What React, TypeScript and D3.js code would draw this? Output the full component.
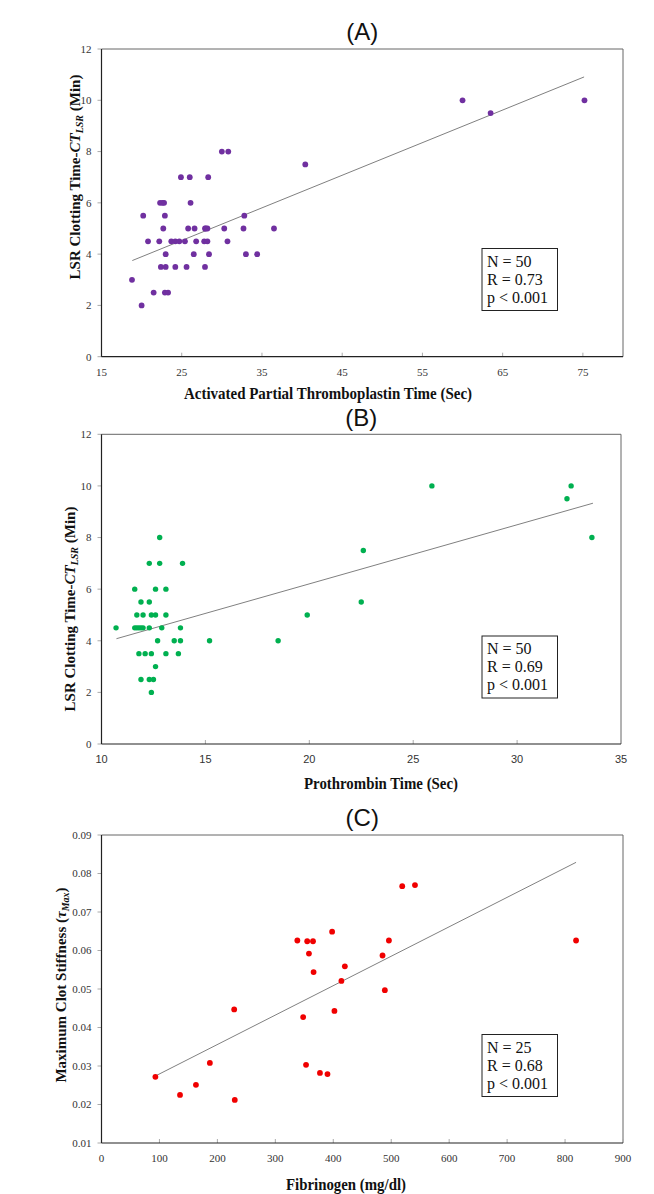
import React from "react";
import * as d3 from "d3";

// ---------- Panel A: APTT vs LSR clotting time ----------
const apttSec = [30.0, 30.8, 40.4, 24.9, 26.0, 28.3, 22.3, 22.6, 22.8, 26.1, 20.2, 22.9, 32.8, 22.7, 25.8, 26.6, 27.9, 28.0, 28.2, 30.3, 32.7, 36.5, 20.8, 22.2, 23.7, 24.2, 24.7, 25.4, 26.8, 27.8, 28.2, 30.7, 23.0, 26.5, 28.4, 33.0, 34.4, 22.4, 23.0, 24.2, 25.6, 27.9, 18.8, 21.5, 22.9, 23.3, 20.0, 60.0, 63.5, 75.2];
const lsrA = [8, 8, 7.5, 7, 7, 7, 6, 6, 6, 6, 5.5, 5.5, 5.5, 5, 5, 5, 5, 5, 5, 5, 5, 5, 4.5, 4.5, 4.5, 4.5, 4.5, 4.5, 4.5, 4.5, 4.5, 4.5, 4, 4, 4, 4, 4, 3.5, 3.5, 3.5, 3.5, 3.5, 3, 2.5, 2.5, 2.5, 2, 10, 9.5, 10];
const fitA = [[18.84, 3.75], [75.15, 10.91]];
const ticksAx = [15, 25, 35, 45, 55, 65, 75];
const ticksAy = [0, 2, 4, 6, 8, 10, 12];
const statsA = ["N = 50", "R = 0.73", "p < 0.001"];

// ---------- Panel B: PT vs LSR clotting time ----------
const ptSec = [12.8, 12.3, 12.8, 13.9, 11.6, 12.6, 13.1, 11.9, 12.3, 11.7, 12.0, 12.4, 12.6, 13.1, 10.7, 11.6, 11.7, 11.8, 11.9, 12.0, 12.3, 12.9, 13.8, 12.7, 13.5, 13.8, 15.2, 11.8, 12.1, 12.4, 13.1, 13.7, 12.6, 11.9, 12.3, 12.5, 12.4, 25.9, 32.6, 32.4, 33.6, 22.6, 22.5, 19.9, 18.5];
const lsrB = [8, 7, 7, 7, 6, 6, 6, 5.5, 5.5, 5, 5, 5, 5, 5, 4.5, 4.5, 4.5, 4.5, 4.5, 4.5, 4.5, 4.5, 4.5, 4, 4, 4, 4, 3.5, 3.5, 3.5, 3.5, 3.5, 3, 2.5, 2.5, 2.5, 2, 10, 10, 9.5, 8, 7.5, 5.5, 5, 4];
const fitB = [[10.72, 4.08], [33.65, 9.33]];
const ticksBx = [10, 15, 20, 25, 30, 35];
const ticksBy = [0, 2, 4, 6, 8, 10, 12];
const statsB = ["N = 50", "R = 0.69", "p < 0.001"];

// ---------- Panel C: Fibrinogen vs max clot stiffness ----------
const fibrinogen = [93, 135.5, 163, 187, 230, 229, 338, 355, 365, 398, 358, 366, 420, 414, 348, 402, 353, 377, 390, 519, 541, 496, 485, 489, 819];
const tauMax = [0.0272, 0.0225, 0.0251, 0.0308, 0.0212, 0.0447, 0.0626, 0.0624, 0.0624, 0.0649, 0.0592, 0.0544, 0.0559, 0.0521, 0.0427, 0.0443, 0.0303, 0.0282, 0.0279, 0.0767, 0.0770, 0.0626, 0.0587, 0.0497, 0.0626];
const fitC = [[93, 0.0274], [819, 0.0829]];
const ticksCx = [0, 100, 200, 300, 400, 500, 600, 700, 800, 900];
const ticksCy = [0.01, 0.02, 0.03, 0.04, 0.05, 0.06, 0.07, 0.08, 0.09];
const statsC = ["N = 25", "R = 0.68", "p < 0.001"];

const SERIF = "'Liberation Serif', 'Times New Roman', serif";
const SANS = "'Liberation Sans', Arial, sans-serif";

type PanelProps = {
  title: string;
  titleY: number;
  xs: number[];
  ys: number[];
  fit: number[][];
  xDomain: [number, number];
  yDomain: [number, number];
  xRange: [number, number];
  yRange: [number, number];
  xTicks: number[];
  yTicks: number[];
  yFmt: (v: number) => string;
  xTickFont: string;
  color: string;
  r: number;
  stats: string[];
  statsTop: number;
  xLabel: string;
  xLabelX: number;
  xLabelY: number;
  xLabelW: number;
  yLabel: React.ReactNode;
  yLabelX: number;
  yLabelY: number;
};

function Panel(p: PanelProps) {
  const x = d3.scaleLinear().domain(p.xDomain).range(p.xRange);
  const y = d3.scaleLinear().domain(p.yDomain).range(p.yRange);
  const [x0, x1] = p.xRange;
  const [yb, yt] = p.yRange;
  const line = d3.line<number[]>().x((d) => x(d[0])).y((d) => y(d[1]));
  const midX = (x0 + x1) / 2;
  return (
    <g>
      <text x={midX} y={p.titleY} textAnchor="middle" fontFamily={SANS} fontSize={24} fill="#111">
        {p.title}
      </text>
      {/* frame */}
      <line x1={x0} x2={x1} y1={yt} y2={yt} stroke="#666" strokeWidth={1} />
      <line x1={x1} x2={x1} y1={yt} y2={yb} stroke="#666" strokeWidth={1} />
      {/* y ticks */}
      {p.yTicks.map((t) => (
        <g key={"yt" + t}>
          <line x1={x0 - 4} x2={x0} y1={y(t)} y2={y(t)} stroke="#aaa" />
          <text x={x0 - 10} y={y(t)} dy="0.35em" textAnchor="end" fontFamily={SERIF} fontSize={11} fill="#333">
            {p.yFmt(t)}
          </text>
        </g>
      ))}
      {/* x ticks */}
      {p.xTicks.map((t) => (
        <g key={"xt" + t}>
          <line x1={x(t)} x2={x(t)} y1={yb} y2={yb - 4} stroke="#aaa" />
          <text x={x(t)} y={yb + 19} textAnchor="middle" fontFamily={p.xTickFont} fontSize={11} fill="#333">
            {t}
          </text>
        </g>
      ))}
      <line x1={x0} x2={x0} y1={yt} y2={yb} stroke="#222" strokeWidth={1.2} />
      <line x1={x0} x2={x1} y1={yb} y2={yb} stroke="#222" strokeWidth={1.2} />
      {/* fit line */}
      <path d={line(p.fit) || ""} fill="none" stroke="#808080" strokeWidth={1} />
      {/* points */}
      {p.xs.map((v, i) => (
        <circle key={i} cx={x(v)} cy={y(p.ys[i])} r={p.r} fill={p.color} />
      ))}
      {/* stats box */}
      <rect x={482} y={p.statsTop} width={75.5} height={62} fill="#fff" stroke="#222" strokeWidth={1} />
      {p.stats.map((s, i) => (
        <text key={s} x={487} y={p.statsTop + 18 + i * 18} fontFamily={SERIF} fontSize={16} fill="#111">
          {s}
        </text>
      ))}
      {/* axis labels */}
      <text
        x={p.xLabelX}
        y={p.xLabelY}
        textAnchor="middle"
        fontFamily={SERIF}
        fontWeight="bold"
        fontSize={16}
        textLength={p.xLabelW}
        lengthAdjust="spacingAndGlyphs"
        fill="#111"
      >
        {p.xLabel}
      </text>
      <text
        transform={`translate(${p.yLabelX},${p.yLabelY}) rotate(-90)`}
        textAnchor="middle"
        fontFamily={SERIF}
        fontWeight="bold"
        fontSize={15}
        fill="#111"
      >
        {p.yLabel}
      </text>
    </g>
  );
}

const lsrLabel = (
  <>
    <tspan>LSR Clotting Time-</tspan>
    <tspan fontStyle="italic">CT</tspan>
    <tspan fontStyle="italic" fontSize={10} dy={3}>LSR</tspan>
    <tspan dy={-3}> (Min)</tspan>
  </>
);

const tauLabel = (
  <>
    <tspan>Maximum Clot Stiffness (</tspan>
    <tspan fontStyle="italic">τ</tspan>
    <tspan fontStyle="italic" fontSize={10} dy={3}>Max</tspan>
    <tspan dy={-3}>)</tspan>
  </>
);

export default function App() {
  return (
    <svg
      width={654}
      height={1194}
      style={{ position: "absolute", left: 0, top: 0, background: "#fff" }}
    >
      <rect width={654} height={1194} fill="#fff" />
      <Panel
        title="(A)"
        titleY={40}
        xs={apttSec}
        ys={lsrA}
        fit={fitA}
        xDomain={[15, 80]}
        yDomain={[0, 12]}
        xRange={[101.5, 623]}
        yRange={[356.7, 49]}
        xTicks={ticksAx}
        yTicks={ticksAy}
        yFmt={(v) => String(v)}
        xTickFont={SERIF}
        color="#7030A0"
        r={2.9}
        stats={statsA}
        statsTop={248.5}
        xLabel="Activated Partial Thromboplastin Time (Sec)"
        xLabelX={328}
        xLabelY={398.5}
        xLabelW={288}
        yLabel={lsrLabel}
        yLabelX={80}
        yLabelY={177}
      />
      <Panel
        title="(B)"
        titleY={426}
        xs={ptSec}
        ys={lsrB}
        fit={fitB}
        xDomain={[10, 35]}
        yDomain={[0, 12]}
        xRange={[101.5, 621]}
        yRange={[744, 434.3]}
        xTicks={ticksBx}
        yTicks={ticksBy}
        yFmt={(v) => String(v)}
        xTickFont={SANS}
        color="#00B050"
        r={2.7}
        stats={statsB}
        statsTop={636}
        xLabel="Prothrombin Time (Sec)"
        xLabelX={381}
        xLabelY={788.5}
        xLabelW={154}
        yLabel={lsrLabel}
        yLabelX={75}
        yLabelY={609}
      />
      <Panel
        title="(C)"
        titleY={826}
        xs={fibrinogen}
        ys={tauMax}
        fit={fitC}
        xDomain={[0, 900]}
        yDomain={[0.01, 0.09]}
        xRange={[101.5, 623]}
        yRange={[1143, 835]}
        xTicks={ticksCx}
        yTicks={ticksCy}
        yFmt={(v) => d3.format(".2f")(v)}
        xTickFont={SERIF}
        color="#F00000"
        r={2.9}
        stats={statsC}
        statsTop={1034.5}
        xLabel="Fibrinogen (mg/dl)"
        xLabelX={346}
        xLabelY={1190}
        xLabelW={120}
        yLabel={tauLabel}
        yLabelX={66}
        yLabelY={985}
      />
    </svg>
  );
}
